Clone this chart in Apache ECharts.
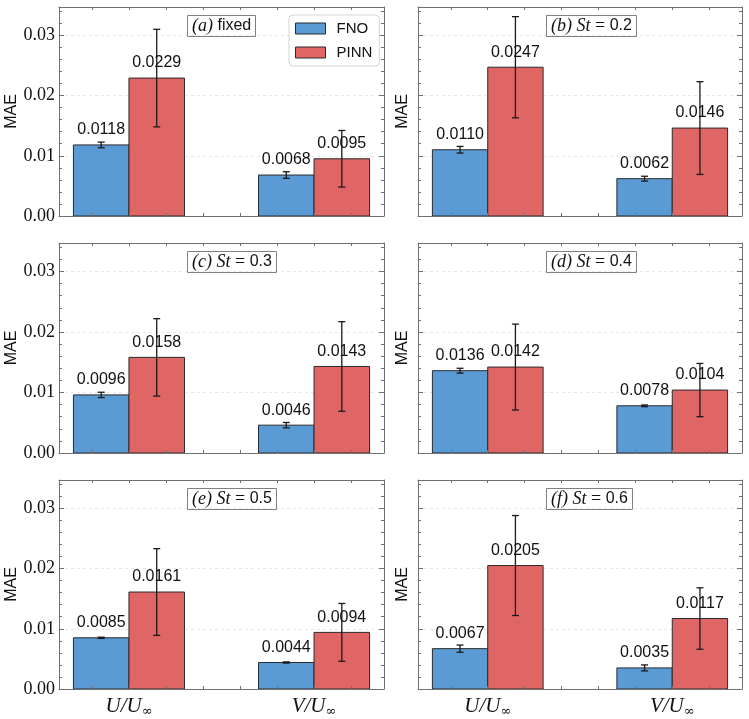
<!DOCTYPE html>
<html>
<head>
<meta charset="utf-8">
<script src="https://cdn.jsdelivr.net/npm/echarts@6/dist/echarts.min.js"></script>
<style>
  html, body { margin: 0; padding: 0; background: #fff; }
  #chart { width: 749px; height: 719px; }
</style>
</head>
<body>
<div id="chart"></div>
<script>
// categories: U/U∞ and V/U∞ (x = 0, 1)
const categories = ['U', 'V'];
const panelTags = ['a', 'b', 'c', 'd', 'e', 'f'];
const panelCases = ['fixed', '0.2', '0.3', '0.4', '0.5', '0.6'];

const fnoMean = [[0.0118, 0.0068], [0.0110, 0.0062], [0.0096, 0.0046], [0.0136, 0.0078], [0.0085, 0.0044], [0.0067, 0.0035]];
const fnoErr = [[0.00047, 0.00055], [0.00055, 0.0004], [0.00044, 0.00044], [0.0004, 0.00014], [0.0001, 0.0001], [0.0006, 0.0005]];
const pinnMean = [[0.0229, 0.0095], [0.0247, 0.0146], [0.0158, 0.0143], [0.0142, 0.0104], [0.0161, 0.0094], [0.0205, 0.0117]];
const pinnErr = [[0.0081, 0.0047], [0.0084, 0.0077], [0.0064, 0.0074], [0.0071, 0.0044], [0.0072, 0.0048], [0.0083, 0.0051]];

const yMajorTicks = [0, 0.01, 0.02, 0.03];
const yMinorTicks = [0.002, 0.004, 0.006, 0.008, 0.012, 0.014, 0.016, 0.018, 0.022, 0.024, 0.026, 0.028, 0.032, 0.034];
const xTicks = [-0.2, 0, 0.2, 0.4, 0.6, 0.8, 1, 1.2];
const xLabelTicks = [0, 1];

const FNO_COLOR = '#5b9bd5';
const PINN_COLOR = '#e06666';
const AXIS_COLOR = '#707070';
const BAR_W = 0.3;

const colLeft = [59, 418];
const colWidth = [325, 324];
const rowTop = [7, 243, 480];
const rowHeight = [209, 210, 209];

const chart = echarts.init(document.getElementById('chart'));

const grids = [], xAxes = [], yAxes = [], series = [], titles = [];

const serifRich = {
  m: { fontFamily: 'Liberation Serif', fontStyle: 'italic', fontWeight: 'normal', fontSize: 18, color: '#111' },
  e: { fontFamily: 'Liberation Serif', fontWeight: 'normal', fontSize: 18, color: '#111' },
  s: { fontFamily: 'Liberation Sans', fontWeight: 'normal', fontSize: 16, color: '#111' }
};

panelTags.forEach((tag, p) => {
  const row = Math.floor(p / 2), col = p % 2;
  grids.push({ left: colLeft[col], top: rowTop[row], width: colWidth[col], height: rowHeight[row] });
  const bottomRow = row === 2;

  // x axes: bottom (with labels on last row) and top (ticks only)
  xAxes.push({
    gridIndex: p, type: 'value', position: 'bottom', min: -0.378, max: 1.378, z: 10,
    axisLine: { onZero: false, lineStyle: { color: AXIS_COLOR, width: 1 } },
    axisTick: { inside: true, length: 3, customValues: xTicks, lineStyle: { color: AXIS_COLOR } },
    axisLabel: {
      show: bottomRow, customValues: xLabelTicks, margin: 5,
      formatter: v => '{i|' + categories[Math.round(v)] + '/U}{sub|∞}',
      rich: {
        i: { fontFamily: 'Liberation Serif', fontStyle: 'italic', fontSize: 21, color: '#111', lineHeight: 24 },
        sub: { fontFamily: 'DejaVu Serif', fontSize: 13, color: '#111', lineHeight: 12, verticalAlign: 'bottom', padding: [8, 0, 0, 0] }
      }
    },
    splitLine: { show: false }
  });
  xAxes.push({
    gridIndex: p, type: 'value', position: 'top', min: -0.378, max: 1.378, z: 10,
    axisLine: { onZero: false, lineStyle: { color: AXIS_COLOR, width: 1 } },
    axisTick: { inside: true, length: 3, customValues: xTicks, lineStyle: { color: AXIS_COLOR } },
    axisLabel: { show: false },
    splitLine: { show: false }
  });

  // y axes: left major, left minor, right major (carries grid lines, drawn below bars), right minor
  const yBase = { gridIndex: p, type: 'value', min: 0, max: 0.0347, z: 10 };
  yAxes.push(Object.assign({}, yBase, {
    position: 'left',
    name: 'MAE', nameLocation: 'middle', nameGap: col === 0 ? 39 : 7,
    nameTextStyle: { fontFamily: 'Liberation Sans', fontSize: 16, color: '#111' },
    axisLine: { onZero: false, lineStyle: { color: AXIS_COLOR, width: 1 } },
    axisTick: { inside: true, length: 5, customValues: yMajorTicks, lineStyle: { color: AXIS_COLOR } },
    axisLabel: {
      show: col === 0, customValues: yMajorTicks, margin: 4,
      fontFamily: 'Liberation Serif', fontSize: 18, color: '#111',
      formatter: v => v.toFixed(2)
    },
    splitLine: { show: false }
  }));
  yAxes.push(Object.assign({}, yBase, {
    position: 'left', offset: 0,
    axisLine: { show: false, onZero: false },
    axisTick: { inside: true, length: 3, customValues: yMinorTicks, lineStyle: { color: AXIS_COLOR } },
    axisLabel: { show: false }, splitLine: { show: false }
  }));
  yAxes.push(Object.assign({}, yBase, {
    position: 'right', offset: 0, z: 0,
    axisLine: { onZero: false, lineStyle: { color: AXIS_COLOR, width: 1 } },
    axisTick: { inside: true, length: 5, customValues: yMajorTicks, lineStyle: { color: AXIS_COLOR } },
    axisLabel: { show: false },
    splitLine: { show: true, lineStyle: { color: '#e2e2e2', type: [3, 3], width: 0.8 } }
  }));
  yAxes.push(Object.assign({}, yBase, {
    position: 'right', offset: 0,
    axisLine: { show: false, onZero: false },
    axisTick: { inside: true, length: 3, customValues: yMinorTicks, lineStyle: { color: AXIS_COLOR } },
    axisLabel: { show: false }, splitLine: { show: false }
  }));

  // panel tag box
  const text = p === 0
    ? '{m|(' + tag + ')}{s| ' + panelCases[p] + '}'
    : '{m|(' + tag + ') St}{e| = }{s|' + panelCases[p] + '}';
  titles.push({
    text, left: colLeft[col] + 128, top: rowTop[row] + 8,
    padding: [2, 5, 2, 5], borderColor: '#808080', borderWidth: 1,
    textStyle: { fontWeight: 'normal', rich: serifRich }
  });

  const makeBars = (name, color, means, errs, shift) => ({
    name, type: 'custom', xAxisIndex: p * 2, yAxisIndex: p * 4, z: 3,
    itemStyle: { color },
    data: categories.map((c, k) => [k, means[p][k], errs[p][k]]),
    renderItem: (params, api) => {
      const x = api.value(0) + shift;
      const v = api.value(1), e = api.value(2);
      const top = api.coord([x, v]);
      const base = api.coord([x, 0]);
      const w = api.size([BAR_W, 0])[0];
      const eHi = api.coord([x, v + e])[1];
      const eLo = api.coord([x, v - e])[1];
      const cap = 3.5;
      const errStyle = { stroke: '#1a1a1a', lineWidth: 1.3 };
      return {
        type: 'group',
        children: [
          { type: 'rect', shape: { x: top[0] - w / 2, y: top[1], width: w, height: base[1] - top[1] },
            style: { fill: color, stroke: '#2a2a2a', lineWidth: 1 } },
          { type: 'line', shape: { x1: top[0], y1: eHi, x2: top[0], y2: eLo }, style: errStyle },
          { type: 'line', shape: { x1: top[0] - cap, y1: eHi, x2: top[0] + cap, y2: eHi }, style: errStyle },
          { type: 'line', shape: { x1: top[0] - cap, y1: eLo, x2: top[0] + cap, y2: eLo }, style: errStyle },
          { type: 'text', z2: 10, style: {
              text: v.toFixed(4), x: top[0], y: top[1] - 7, align: 'center', verticalAlign: 'bottom',
              fontFamily: 'Liberation Sans', fontSize: 16, fill: '#111' } }
        ]
      };
    }
  });
  series.push(makeBars('FNO', FNO_COLOR, fnoMean, fnoErr, -BAR_W / 2));
  series.push(makeBars('PINN', PINN_COLOR, pinnMean, pinnErr, BAR_W / 2));
});

chart.setOption({
  animation: false,
  title: titles,
  grid: grids,
  xAxis: xAxes,
  yAxis: yAxes,
  legend: {
    data: ['FNO', 'PINN'], orient: 'vertical', left: 289, top: 15,
    icon: 'rect', itemWidth: 30, itemHeight: 11, itemGap: 9,
    padding: [6, 7, 6, 6], borderColor: '#d5d5d5', borderWidth: 1, borderRadius: 4,
    backgroundColor: 'rgba(255,255,255,0.85)',
    itemStyle: { borderColor: '#2a2a2a', borderWidth: 1 },
    textStyle: { fontFamily: 'Liberation Sans', fontSize: 15, color: '#111', padding: [0, 0, 0, 6] },
    selectedMode: false, z: 20
  },
  series
});
</script>
</body>
</html>
